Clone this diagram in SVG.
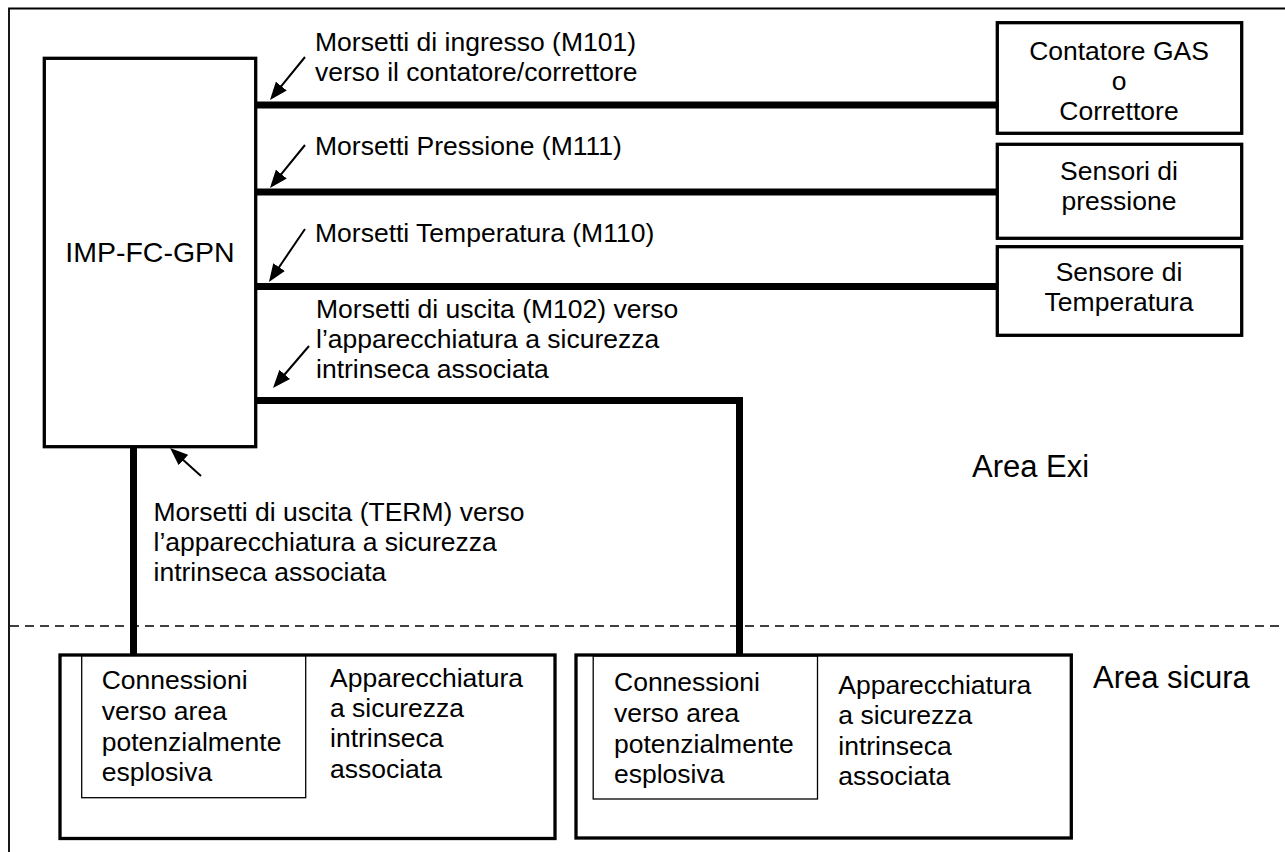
<svg xmlns="http://www.w3.org/2000/svg" width="1285" height="852" viewBox="0 0 1285 852">
<style>
.t{font-family:"Liberation Sans",Arial,Helvetica,sans-serif;font-size:26.5px;fill:#000}
.big{font-size:28.5px}
.area{font-size:31px}
.box{fill:#fff;stroke:#000;stroke-width:3.3}
.inner{fill:none;stroke:#000;stroke-width:1.3}
.wire{fill:none;stroke:#000;stroke-width:7;stroke-linejoin:miter}
.ptr{fill:none;stroke:#000;stroke-width:2;marker-end:url(#ah)}
.frame{fill:none;stroke:#000;stroke-width:1.8}
.dash{fill:none;stroke:#000;stroke-width:1.6;stroke-dasharray:9 6}
</style>
<defs>
<marker id="ah" viewBox="0 0 18 14" refX="14" refY="7" markerWidth="18" markerHeight="14" markerUnits="userSpaceOnUse" orient="auto">
<path d="M0,0 L18,7 L0,14 z" fill="#000"/>
</marker>
</defs>
<rect width="1285" height="852" fill="#fff"/>
<g id="frame">
<path class="frame" d="M9,852 V8.5 H1285"/>
<line class="dash" x1="10" y1="626" x2="1285" y2="626"/>
</g>
<g id="connectors">
<line class="wire" x1="256" y1="105" x2="998" y2="105"/>
<line class="wire" x1="256" y1="192" x2="998" y2="192"/>
<line class="wire" x1="256" y1="286.5" x2="998" y2="286.5"/>
<path class="wire" d="M256,400.5 H739.5 V655"/>
<line class="wire" x1="133.5" y1="446" x2="133.5" y2="655"/>
<line class="ptr" x1="305" y1="57" x2="272.5" y2="96.9"/>
<line class="ptr" x1="305" y1="145" x2="272.5" y2="184.9"/>
<line class="ptr" x1="305" y1="229" x2="271.2" y2="278.7"/>
<line class="ptr" x1="309" y1="346" x2="275.6" y2="385"/>
<line class="ptr" x1="201" y1="476" x2="173" y2="450.7"/>
</g>
<g id="imp-fc-gpn">
<rect class="box" x="44.3" y="58.3" width="211.4" height="388.4"/>
<text class="t big" x="150" y="262" text-anchor="middle">IMP-FC-GPN</text>
</g>
<g id="contatore">
<rect class="box" x="997.3" y="22.7" width="244.4" height="110.6"/>
<text class="t" text-anchor="middle"><tspan x="1119" y="59.5">Contatore GAS</tspan><tspan x="1119" y="89.5">o</tspan><tspan x="1119" y="119.5">Correttore</tspan></text>
</g>
<g id="sensori-pressione">
<rect class="box" x="997.3" y="144.3" width="244.4" height="94"/>
<text class="t" text-anchor="middle"><tspan x="1119" y="180">Sensori di</tspan><tspan x="1119" y="210">pressione</tspan></text>
</g>
<g id="sensore-temperatura">
<rect class="box" x="997.3" y="246.7" width="244.4" height="88.6"/>
<text class="t" text-anchor="middle"><tspan x="1119" y="280.5">Sensore di</tspan><tspan x="1119" y="310.5">Temperatura</tspan></text>
</g>
<g id="label-m101">
<text class="t"><tspan x="315" y="51">Morsetti di ingresso (M101)</tspan><tspan x="315" y="81">verso il contatore/correttore</tspan></text>
</g>
<g id="label-m111">
<text class="t" x="315" y="154.5">Morsetti Pressione (M111)</text>
</g>
<g id="label-m110">
<text class="t" x="315" y="242">Morsetti Temperatura (M110)</text>
</g>
<g id="label-m102">
<text class="t"><tspan x="316" y="318">Morsetti di uscita (M102) verso</tspan><tspan x="316" y="348">l’apparecchiatura a sicurezza</tspan><tspan x="316" y="378">intrinseca associata</tspan></text>
</g>
<g id="label-term">
<text class="t"><tspan x="153.5" y="521">Morsetti di uscita (TERM) verso</tspan><tspan x="153.5" y="551">l’apparecchiatura a sicurezza</tspan><tspan x="153.5" y="581">intrinseca associata</tspan></text>
</g>
<g id="area-exi">
<text class="t area" x="972" y="477">Area Exi</text>
</g>
<g id="area-sicura">
<text class="t area" x="1093" y="688">Area sicura</text>
</g>
<g id="apparecchiatura-1">
<rect class="box" x="60" y="655" width="495" height="183.5"/>
<rect class="inner" x="81.7" y="655.5" width="224" height="142.2"/>
<text class="t"><tspan x="101.7" y="689">Connessioni</tspan><tspan x="101.7" y="720">verso area</tspan><tspan x="101.7" y="751">potenzialmente</tspan><tspan x="101.7" y="781">esplosiva</tspan></text>
<text class="t"><tspan x="330" y="686.5">Apparecchiatura</tspan><tspan x="330" y="716.5">a sicurezza</tspan><tspan x="330" y="747">intrinseca</tspan><tspan x="330" y="777.5">associata</tspan></text>
</g>
<g id="apparecchiatura-2">
<rect class="box" x="576" y="655" width="495.3" height="183"/>
<rect class="inner" x="593.2" y="656" width="224.3" height="143"/>
<text class="t"><tspan x="614" y="691">Connessioni</tspan><tspan x="614" y="722">verso area</tspan><tspan x="614" y="753">potenzialmente</tspan><tspan x="614" y="783">esplosiva</tspan></text>
<text class="t"><tspan x="838.3" y="693.5">Apparecchiatura</tspan><tspan x="838.3" y="724">a sicurezza</tspan><tspan x="838.3" y="754.5">intrinseca</tspan><tspan x="838.3" y="784.5">associata</tspan></text>
</g>
</svg>
